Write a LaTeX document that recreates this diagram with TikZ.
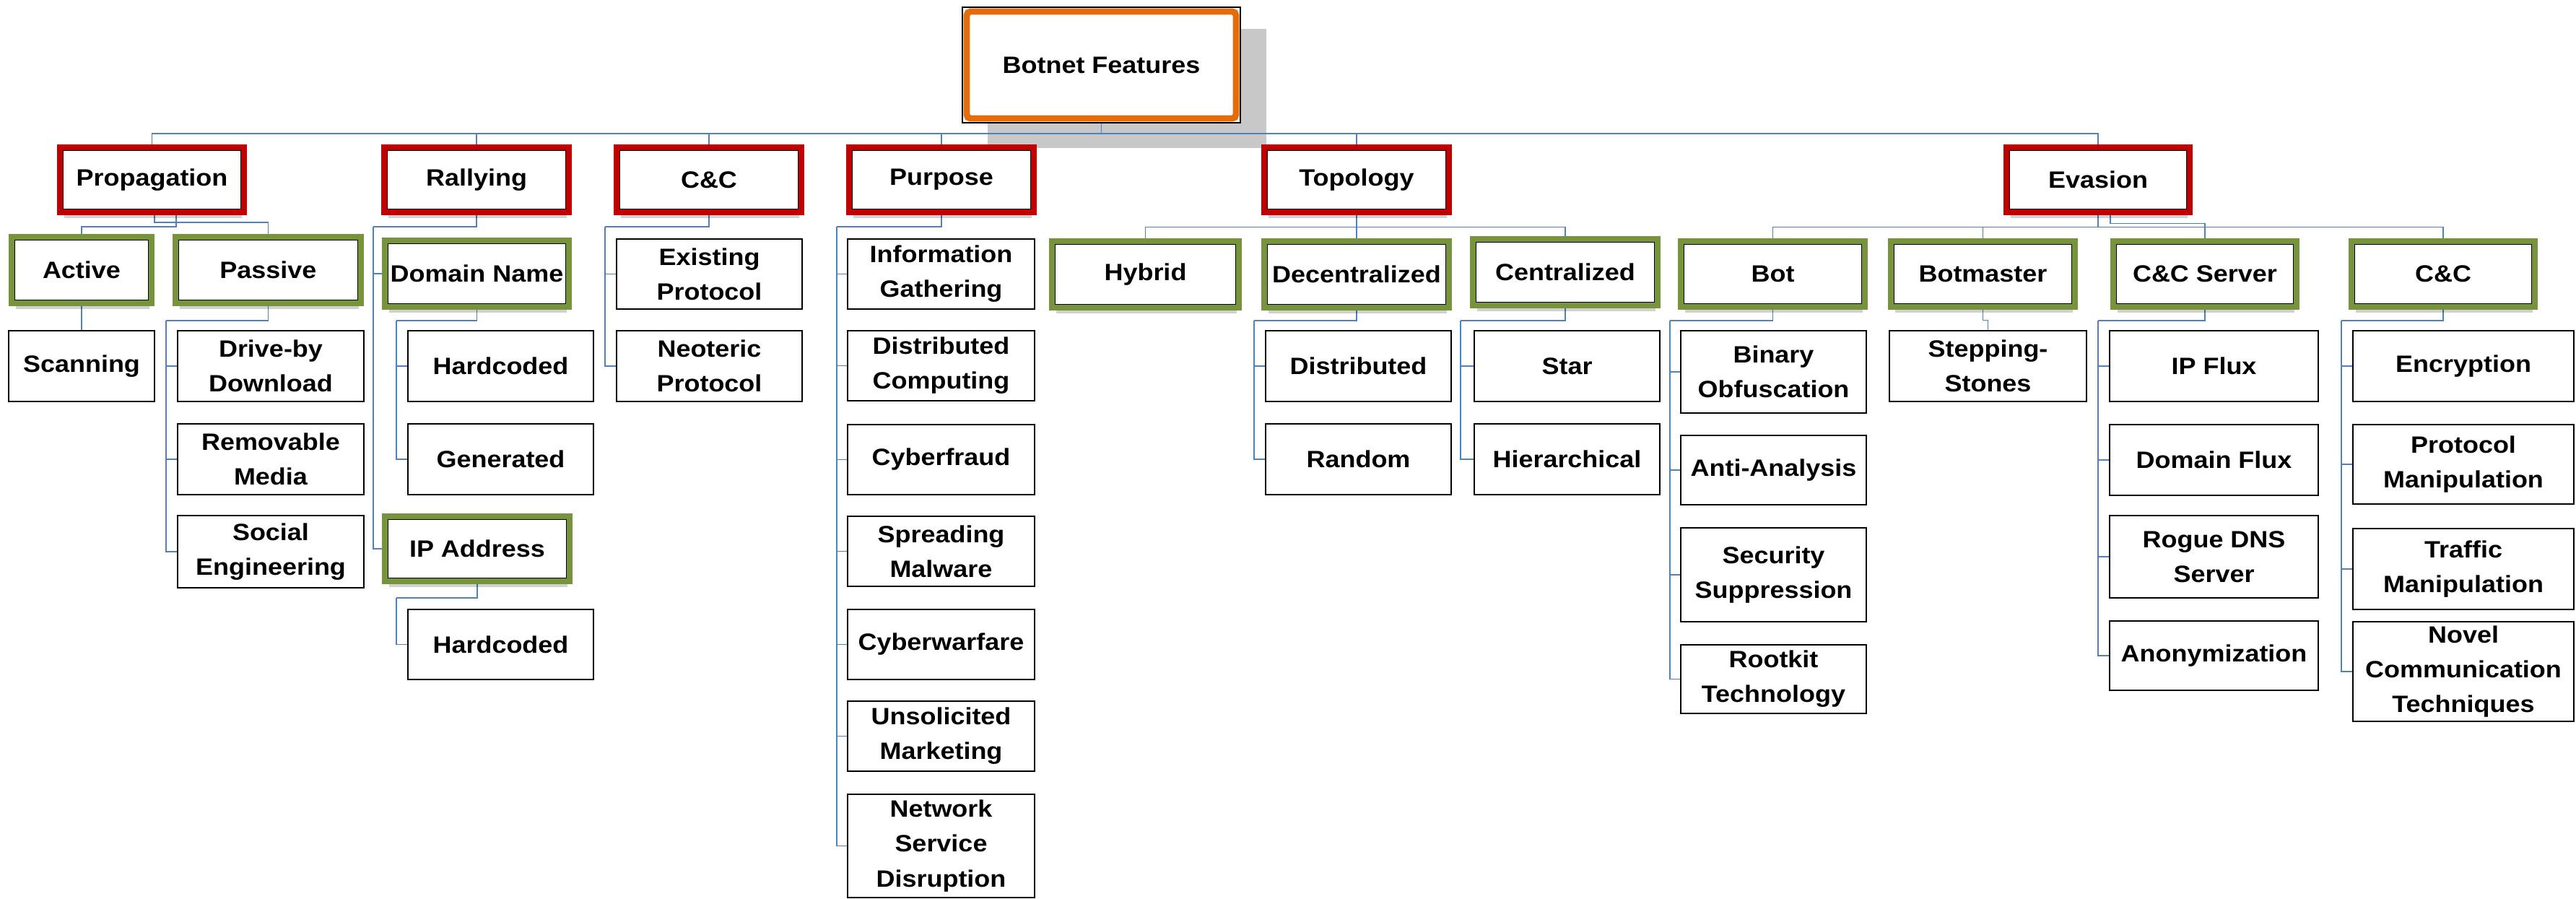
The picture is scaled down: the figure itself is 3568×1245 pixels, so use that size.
\documentclass[tikz,border=0pt]{standalone}
\usepackage{fontspec}
\setmainfont{Liberation Sans}[FakeStretch=1.1]
\usetikzlibrary{calc,backgrounds,shadows}

\definecolor{cRed}{HTML}{C00000}
\definecolor{cGreen}{HTML}{77933C}
\definecolor{cOrange}{HTML}{E46C0A}
\definecolor{cLink}{HTML}{4F81BD}
\definecolor{cShade}{HTML}{C8C8C8}

% plain box: name, style, x1, y1, x2, y2, text (outer edges)
\newcommand\plainbox[7]{%
  \node[#2, minimum width={(#5-#3)*0.01cm}, minimum height={(#6-#4)*0.01cm}]
    (#1) at ({(#3+#5)/2},{(#4+#6)/2}) {#7};}
% framed box: the coloured frame lies outside the node path
\newcommand\markbox[7]{%
  \node[#2, minimum width={(#5-#3-17)*0.01cm}, minimum height={(#6-#4-17)*0.01cm}]
    (#1) at ({(#3+#5)/2},{(#4+#6)/2}) {#7};}

\tikzset{
  base/.style={rectangle, align=center, inner sep=0pt, outer sep=0pt,
    font=\fontsize{9.3}{13.7}\selectfont\bfseries, text=black},
  leaf/.style={base, draw=black, line width=0.6pt, fill=white},
  groupbox/.style={base, draw=black, line width=0.5pt, fill=white,
    drop shadow={shadow xshift=0.4pt, shadow yshift=-3.5pt, opacity=0.18, fill=black},
    preaction={draw=#1, line width=5pt, rounded corners=1.5pt}},
  topic/.style={groupbox=cRed},
  subtopic/.style={groupbox=cGreen},
  link/.style={draw=cLink, line width=0.5pt},
}

\begin{document}
\begin{tikzpicture}[x=0.01cm, y=-0.01cm]
\useasboundingbox (0,0) rectangle (3568,1245);

% root
\plainbox{root}{leaf}{1333}{10}{1718}{170}{Botnet Features}
\draw[cOrange, line width=2.5pt, rounded corners=1.5pt]
  ([shift={(6,6)}]root.north west) rectangle ([shift={(-6,-6)}]root.south east);

% main categories
\markbox{prop}{topic}{79}{200}{342}{298}{Propagation}
\markbox{rally}{topic}{528}{200}{792}{298}{Rallying}
\markbox{cnc}{topic}{850}{200}{1114}{298}{C\&C}
\markbox{purp}{topic}{1172}{200}{1436}{298}{Purpose}
\markbox{topo}{topic}{1747}{200}{2011}{298}{Topology}
\markbox{evas}{topic}{2775}{200}{3037}{298}{Evasion}

% sub-categories
\markbox{act}{subtopic}{12}{324}{214}{424}{Active}
\markbox{pas}{subtopic}{239}{324}{504}{424}{Passive}
\markbox{dom}{subtopic}{529}{329}{792}{429}{Domain Name}
\markbox{ipa}{subtopic}{529}{711}{793}{809}{IP Address}
\markbox{hyb}{subtopic}{1453}{330}{1720}{430}{Hybrid}
\markbox{dec}{subtopic}{1747}{330}{2011}{430}{Decentralized}
\markbox{cen}{subtopic}{2036}{327}{2300}{427}{Centralized}
\markbox{bot}{subtopic}{2324}{330}{2587}{429}{Bot}
\markbox{bmas}{subtopic}{2615}{330}{2878}{429}{Botmaster}
\markbox{ccs}{subtopic}{2923}{330}{3185}{429}{C\&C Server}
\markbox{cce}{subtopic}{3253}{330}{3515}{429}{C\&C}

% propagation
\plainbox{scan}{leaf}{12}{458}{214}{556}{Scanning}
\plainbox{dbd}{leaf}{246}{458}{504}{556}{Drive-by\\Download}
\plainbox{rem}{leaf}{246}{587}{504}{685}{Removable\\Media}
\plainbox{soc}{leaf}{246}{714}{504}{814}{Social\\Engineering}

% rallying
\plainbox{hcA}{leaf}{565}{458}{822}{556}{Hardcoded}
\plainbox{gen}{leaf}{565}{587}{822}{685}{Generated}
\plainbox{hcB}{leaf}{565}{844}{822}{941}{Hardcoded}

% C&C
\plainbox{exi}{leaf}{854}{331}{1111}{428}{Existing\\Protocol}
\plainbox{neo}{leaf}{854}{458}{1111}{556}{Neoteric\\Protocol}

% purpose
\plainbox{info}{leaf}{1174}{331}{1433}{428}{Information\\Gathering}
\plainbox{dcp}{leaf}{1174}{458}{1433}{555}{Distributed\\Computing}
\plainbox{frd}{leaf}{1174}{588}{1433}{685}{Cyberfraud}
\plainbox{spr}{leaf}{1174}{715}{1433}{812}{Spreading\\Malware}
\plainbox{war}{leaf}{1174}{844}{1433}{941}{Cyberwarfare}
\plainbox{uns}{leaf}{1174}{971}{1433}{1068}{Unsolicited\\Marketing}
\plainbox{nsd}{leaf}{1174}{1100}{1433}{1243}{Network\\Service\\Disruption}

% topology
\plainbox{dis}{leaf}{1753}{458}{2010}{556}{Distributed}
\plainbox{rnd}{leaf}{1753}{587}{2010}{685}{Random}
\plainbox{star}{leaf}{2042}{458}{2299}{556}{Star}
\plainbox{hier}{leaf}{2042}{587}{2299}{685}{Hierarchical}

% evasion
\plainbox{bin}{leaf}{2328}{458}{2585}{572}{Binary\\Obfuscation}
\plainbox{anti}{leaf}{2328}{603}{2585}{699}{Anti-Analysis}
\plainbox{sec}{leaf}{2328}{731}{2585}{861}{Security\\Suppression}
\plainbox{rkt}{leaf}{2328}{893}{2585}{988}{Rootkit\\Technology}
\plainbox{step}{leaf}{2617}{458}{2890}{556}{Stepping-\\Stones}
\plainbox{ipf}{leaf}{2922}{458}{3211}{556}{IP Flux}
\plainbox{dmf}{leaf}{2922}{588}{3211}{686}{Domain Flux}
\plainbox{rog}{leaf}{2922}{714}{3211}{828}{Rogue DNS\\Server}
\plainbox{ano}{leaf}{2922}{860}{3211}{956}{Anonymization}
\plainbox{enc}{leaf}{3259}{458}{3565}{556}{Encryption}
\plainbox{prm}{leaf}{3259}{588}{3565}{698}{Protocol\\Manipulation}
\plainbox{trm}{leaf}{3259}{732}{3565}{844}{Traffic\\Manipulation}
\plainbox{nct}{leaf}{3259}{861}{3565}{999}{Novel\\Communication\\Techniques}

% junction points
\coordinate (busTop) at ($(root.south)+(0,15)$);
\coordinate (propL) at (244,314);
\coordinate (propR) at (214,308);
\coordinate (pasS) at (230,444);
\coordinate (ralS) at (517,314);
\coordinate (domS) at (549,444);
\coordinate (ipaS) at (549,828);
\coordinate (cncS) at (838,314);
\coordinate (purS) at (1159,314);
\coordinate (topoBus) at ($(topo.south)+(0,25)$);
\coordinate (decS) at (1737,444);
\coordinate (cenS) at (2023,444);
\coordinate (evasBus) at ($(evas.south)+(0,25)$);
\coordinate (evasAlt) at ($(evas.south)+(17,20)$);
\coordinate (botS) at (2313,444);
\coordinate (bmasS) at ($(bmas.south)+(0,23)$);
\coordinate (ccsS) at (2906,444);
\coordinate (cceS) at (3243,444);

\begin{scope}[on background layer]
  \fill[cShade] (1368,40) rectangle (1754,205);
  \draw[link] (root.south) -- (busTop);
  \foreach \n in {prop,rally,cnc,purp,topo,evas} \draw[link] (busTop) -| (\n.north);

  \draw[link] (propL |- prop.south) -- (propL) -| (act.north);
  \draw[link] (propR |- prop.south) -- (propR) -| (pas.north);
  \draw[link] (act.south) -- (scan.north);
  \draw[link] (pas.south) |- (pasS);
  \foreach \c in {dbd,rem,soc} \draw[link] (pasS) |- (\c.west);

  \draw[link] (rally.south) |- (ralS);
  \foreach \c in {dom,ipa} \draw[link] (ralS) |- (\c.west);
  \draw[link] (dom.south) |- (domS);
  \foreach \c in {hcA,gen} \draw[link] (domS) |- (\c.west);
  \draw[link] (ipa.south) |- (ipaS);
  \draw[link] (ipaS) |- (hcB.west);

  \draw[link] (cnc.south) |- (cncS);
  \foreach \c in {exi,neo} \draw[link] (cncS) |- (\c.west);

  \draw[link] (purp.south) |- (purS);
  \foreach \c in {info,dcp,frd,spr,war,uns,nsd} \draw[link] (purS) |- (\c.west);

  \draw[link] (topo.south) -- (topoBus);
  \foreach \c in {hyb,dec,cen} \draw[link] (topoBus) -| (\c.north);
  \draw[link] (dec.south) |- (decS);
  \foreach \c in {dis,rnd} \draw[link] (decS) |- (\c.west);
  \draw[link] (cen.south) |- (cenS);
  \foreach \c in {star,hier} \draw[link] (cenS) |- (\c.west);

  \draw[link] (evas.south) -- (evasBus);
  \foreach \c in {bot,bmas,ccs,cce} \draw[link] (evasBus) -| (\c.north);
  \draw[link] (evasAlt |- evas.south) -- (evasAlt) -| (ccs.north);
  \draw[link] (bot.south) |- (botS);
  \foreach \c in {bin,anti,sec,rkt} \draw[link] (botS) |- (\c.west);
  \draw[link] (bmas.south) -- (bmasS) -| (step.north);
  \draw[link] (ccs.south) |- (ccsS);
  \foreach \c in {ipf,dmf,rog,ano} \draw[link] (ccsS) |- (\c.west);
  \draw[link] (cce.south) |- (cceS);
  \foreach \c in {enc,prm,trm,nct} \draw[link] (cceS) |- (\c.west);
\end{scope}
\end{tikzpicture}
\end{document}
